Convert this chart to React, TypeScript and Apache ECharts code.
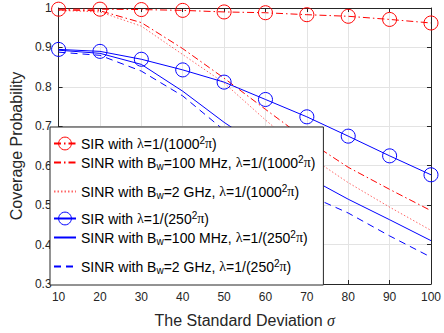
import React, { useEffect, useRef } from 'react';
import * as echarts from 'echarts';

const sigma = [10, 20, 30, 40, 50, 60, 70, 80, 90, 100];
const sirLow = [0.997, 0.997, 0.996, 0.994, 0.99, 0.988, 0.983, 0.979, 0.971, 0.962];
const sinr100Low = [0.995, 0.993, 0.963, 0.897, 0.822, 0.743, 0.665, 0.596, 0.54, 0.486];
const sinr2gLow = [0.994, 0.99, 0.954, 0.882, 0.81, 0.716, 0.628, 0.557, 0.495, 0.436];
const sirHigh = [0.895, 0.89, 0.87, 0.843, 0.812, 0.768, 0.724, 0.675, 0.625, 0.577];
const sinr100High = [0.893, 0.885, 0.857, 0.789, 0.71, 0.64, 0.572, 0.515, 0.463, 0.41];
const sinr2gHigh = [0.888, 0.88, 0.84, 0.777, 0.69, 0.607, 0.527, 0.48, 0.422, 0.368];

const names = [
  'SIR with λ=1/(1000^2π)',
  'SINR with Bw=100 MHz, λ=1/(1000^2π)',
  'SINR with Bw=2 GHz, λ=1/(1000^2π)',
  'SIR with λ=1/(250^2π)',
  'SINR with Bw=100 MHz, λ=1/(250^2π)',
  'SINR with Bw=2 GHz, λ=1/(250^2π)',
];
const richNames: Record<string, string> = {
  [names[0]]: '{t|SIR with }{g|λ}{t|=1/(1000}{supA|2}{g|π}{t|)}',
  [names[1]]: '{t|SINR with B}{sub|w}{t|=100 MHz, }{g|λ}{t|=1/(1000}{supB|2}{g|π}{t|)}',
  [names[2]]: '{t|SINR with B}{sub|w}{t|=2 GHz, }{g|λ}{t|=1/(1000}{supC|2}{g|π}{t|)}',
  [names[3]]: '{t|SIR with }{g|λ}{t|=1/(250}{supA|2}{g|π}{t|)}',
  [names[4]]: '{t|SINR with B}{sub|w}{t|=100 MHz, }{g|λ}{t|=1/(250}{supB|2}{g|π}{t|)}',
  [names[5]]: '{t|SINR with B}{sub|w}{t|=2 GHz, }{g|λ}{t|=1/(250}{supC|2}{g|π}{t|)}',
};
const withSymbol = [true, false, false, true, false, false];

const RED = '#ff0000';
const BLUE = '#0000ff';
const AX = '#262626';
const DASHDOT = [7, 3, 1.5, 3];

function mk(name: string, arr: number[], color: string, type: any, symbol: boolean, opacity = 1) {
  return {
    name,
    type: 'line',
    data: sigma.map((x, i) => [x, arr[i]]),
    symbol: symbol ? 'circle' : 'none',
    symbolSize: 14,
    showSymbol: symbol,
    itemStyle: { color: 'rgba(255,255,255,0)', borderColor: color, borderWidth: 1 },
    lineStyle: { color, width: 1, type, opacity },
    emphasis: { disabled: true },
  };
}

export default function App() {
  const ref = useRef<HTMLDivElement>(null);
  useEffect(() => {
    const chart = echarts.init(ref.current!, null, { renderer: 'svg' });
    const font = 'Liberation Sans, Arial, sans-serif';
    const serif = 'Liberation Serif, serif';
    const axisCommon = {
      type: 'value' as const,
      axisLine: { show: true, lineStyle: { color: AX, width: 1 } },
      axisTick: { show: true, inside: true, length: 4, lineStyle: { color: AX } },
    };
    const supBase = { fontSize: 10, fontFamily: font, color: '#000', lineHeight: 10 };
    chart.setOption({
      animation: false,
      backgroundColor: '#fff',
      grid: { left: 50, right: 9, top: 8, bottom: 48, containLabel: false },
      xAxis: [
        {
          ...axisCommon,
          min: 10,
          max: 100,
          interval: 10,
          position: 'bottom',
          axisLabel: { color: AX, fontSize: 12, fontFamily: font, margin: 7 },
          splitLine: { show: true, lineStyle: { color: '#e3e3e3', width: 1 } },
          name: '{a|The Standard Deviation }{g|σ}',
          nameLocation: 'middle',
          nameGap: 28,
          nameTextStyle: {
            rich: {
              a: { fontSize: 16, fontFamily: font, color: AX },
              g: { fontSize: 16, fontFamily: serif, fontStyle: 'italic', color: AX },
            },
          },
        },
        {
          ...axisCommon,
          min: 10,
          max: 100,
          interval: 10,
          position: 'top',
          axisLabel: { show: false },
          splitLine: { show: false },
        },
      ],
      yAxis: [
        {
          ...axisCommon,
          min: 0.3,
          max: 1,
          interval: 0.1,
          position: 'left',
          axisLabel: {
            color: AX,
            fontSize: 12,
            fontFamily: font,
            margin: 7,
            formatter: (v: number) => (Math.abs(v - 1) < 1e-9 ? '1' : v.toFixed(1)),
          },
          splitLine: { show: true, lineStyle: { color: '#e3e3e3', width: 1 } },
          name: 'Coverage Probability',
          nameLocation: 'middle',
          nameGap: 26,
          nameTextStyle: { fontSize: 16, fontFamily: font, color: AX },
        },
        {
          ...axisCommon,
          min: 0.3,
          max: 1,
          interval: 0.1,
          position: 'right',
          axisLabel: { show: false },
          splitLine: { show: false },
        },
      ],
      legend: {
        data: names.map((n, i) =>
          withSymbol[i] ? { name: n } : { name: n, itemStyle: { opacity: 0, borderWidth: 0 } }
        ),
        orient: 'vertical',
        left: 50,
        top: 127,
        padding: [8, 8, 0, 3],
        itemGap: 0,
        itemWidth: 22,
        itemHeight: 16,
        backgroundColor: '#fff',
        borderColor: AX,
        borderWidth: 1,
        borderRadius: 0,
        itemStyle: { borderWidth: 1 },
        formatter: (n: string) => richNames[n] || n,
        textStyle: {
          rich: {
            t: { fontSize: 14, fontFamily: font, color: '#000' },
            g: { fontSize: 14, fontFamily: serif, color: '#000' },
            supA: { ...supBase, padding: [0, 0, 7, 0] },
            supB: { ...supBase, padding: [2, 0, 9, 0] },
            supC: { ...supBase, padding: [10, 0, 17, 0] },
            sub: { ...supBase, padding: [7, 0, 0, 0] },
          },
        },
      },
      series: [
        mk(names[0], sirLow, RED, DASHDOT, true),
        mk(names[1], sinr100Low, RED, DASHDOT, false),
        mk(names[2], sinr2gLow, RED, [1.5, 2], false, 0.6),
        mk(names[3], sirHigh, BLUE, 'solid', true),
        mk(names[4], sinr100High, BLUE, 'solid', false),
        mk(names[5], sinr2gHigh, BLUE, [7, 5], false),
      ],
    });
    return () => chart.dispose();
  }, []);
  return <div ref={ref} style={{ position: 'fixed', left: 0, top: 0, width: 444, height: 333 }} />;
}
